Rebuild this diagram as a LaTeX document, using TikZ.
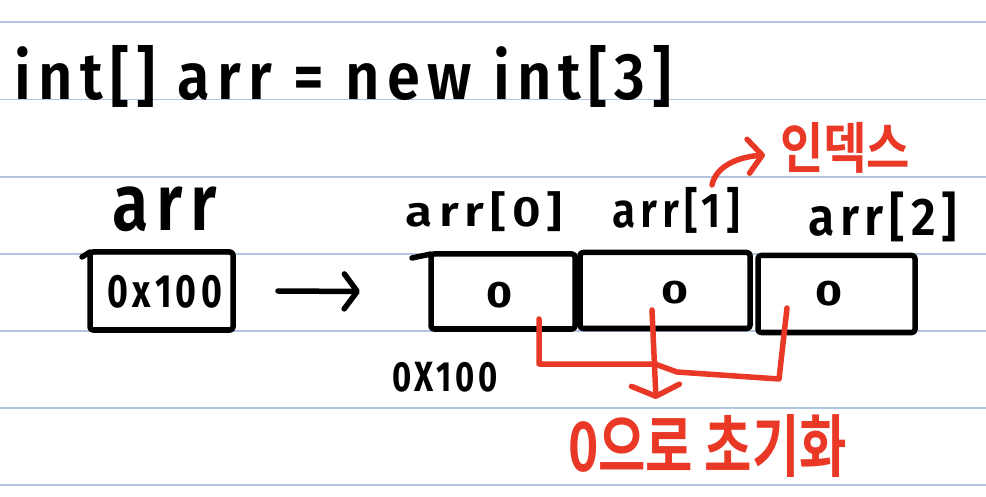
\documentclass[tikz,border=0pt]{standalone}
\usepackage{graphicx}
\usepackage{fontspec}
\setmainfont{Fira Sans}[UprightFont={* SemiBold}, BoldFont={* Bold}, LetterSpace=12]
\newfontfamily\kr{Noto Sans CJK KR}[BoldFont={Noto Sans CJK KR Bold}]
\usetikzlibrary{arrows.meta}
\definecolor{ruleblue}{RGB}{178,196,226}
\definecolor{penred}{RGB}{234,56,38}
\newcommand{\fitbox}[3]{\resizebox*{#1pt}{#2pt}{#3}}
\begin{document}
\begin{tikzpicture}[x=1pt,y=-1pt,
  ink/.style={line width=5.5pt, line cap=round, line join=round},
  redink/.style={draw=penred, line width=5.5pt, line cap=round, line join=round},
  cellbox/.style={draw, ink, rounded corners=3pt, inner sep=0pt, outer sep=0pt},
  txt/.style={inner sep=0pt, outer sep=0pt},
  rtxt/.style={inner sep=0pt, outer sep=0pt, text=penred},
  blackbarb/.style={-{Straight Barb[length=13pt,width=35pt,round]}},
  redbarb/.style={-{Straight Barb[length=11pt,width=48pt,round]}},
  idxbarb/.style={-{Straight Barb[length=14pt,width=34pt,round]}}]
\fill[white] (0,0) rectangle (986,497);
\useasboundingbox (0,0) rectangle (986,497);
% ruled paper
\foreach \yy in {22,99.5,177,254,331,408,485}
  \draw[ruleblue, line width=1.3pt] (0,\yy) -- (986,\yy);

% title
\node[txt] (title) at (343.5,76) {\fontsize{54}{54}\selectfont\fitbox{657}{62}{int[] arr = new int[3]}};

% pointer variable
\node[txt] (lptr) at (164.5,209.5) {\fontsize{60}{60}\selectfont\fitbox{105}{45}{arr}};
\node[cellbox, minimum width=143pt, minimum height=78pt] (ptr) at (161.5,291) {};
\node[txt] (pval) at (165,291.5) {\bfseries\fontsize{40}{40}\selectfont\fitbox{114}{33}{0x100}};
\draw[ink] ([shift={(-8,5)}]ptr.north west) -- (ptr.north west);

% array cells
\node[cellbox, minimum width=144pt, minimum height=75pt] (c0) at (503,291.5) {};
\node[cellbox, minimum width=170pt, minimum height=76pt] (c1) at (665,290.5) {};
\node[cellbox, minimum width=157pt, minimum height=77pt] (c2) at (836.5,294) {};
\draw[ink] ([shift={(-19,4)}]c0.north west) -- (c0.north west);
\node[txt] (z0) at (499.5,295) {\bfseries\fontsize{30}{30}\selectfont\fitbox{26}{26}{0}};
\node[txt] (z1) at (674.5,293) {\bfseries\fontsize{30}{30}\selectfont\fitbox{27}{23}{0}};
\node[txt] (z2) at (828.5,293.5) {\bfseries\fontsize{30}{30}\selectfont\fitbox{27}{25}{0}};

% index labels
\node[txt] (l0) at (484.5,212) {\fontsize{38}{38}\selectfont\fitbox{157}{40}{arr[0]}};
\node[txt] (l1) at (676,210) {\fontsize{40}{40}\selectfont\fitbox{128}{46}{arr[1]}};
\node[txt] (l2) at (882.5,217) {\fontsize{42}{42}\selectfont\fitbox{149}{50}{arr[2]}};

% address under the array
\node[txt] (addr) at (445,377) {\bfseries\fontsize{36}{36}\selectfont\fitbox{106}{30}{0X100}};

% pointer arrow
\draw[ink, blackbarb] ([xshift=45pt]ptr.east) -- ([xshift=-71pt]c0.west);

% red notes
\node[rtxt] (idx) at (845,147.5) {\kr\bfseries\fontsize{46}{46}\selectfont\fitbox{130}{51}{인덱스}};
\node[rtxt] (init) at (707.5,446.5) {\kr\bfseries\fontsize{56}{56}\selectfont\fitbox{279}{63}{0으로 초기화}};

\coordinate (ia) at (712,185);
\coordinate (ib) at (765,155);
\draw[redink, idxbarb] (ia) .. controls (716,166) and (738,157) .. (ib);

\coordinate (b0) at (539,319);
\coordinate (b0d) at (539,364);
\coordinate (bm) at (655,364);
\coordinate (bs) at (677,372);
\coordinate (b2d) at (779,379);
\coordinate (b2) at (787,308);
\coordinate (m1) at (652,310);
\coordinate (m2) at (656,399);
\draw[redink] (b0) -- (b0d) -- (bm) -- (bs) -- (b2d) -- (b2);
\draw[redink, redbarb] (m1) -- (m2);
\end{tikzpicture}
\end{document}
